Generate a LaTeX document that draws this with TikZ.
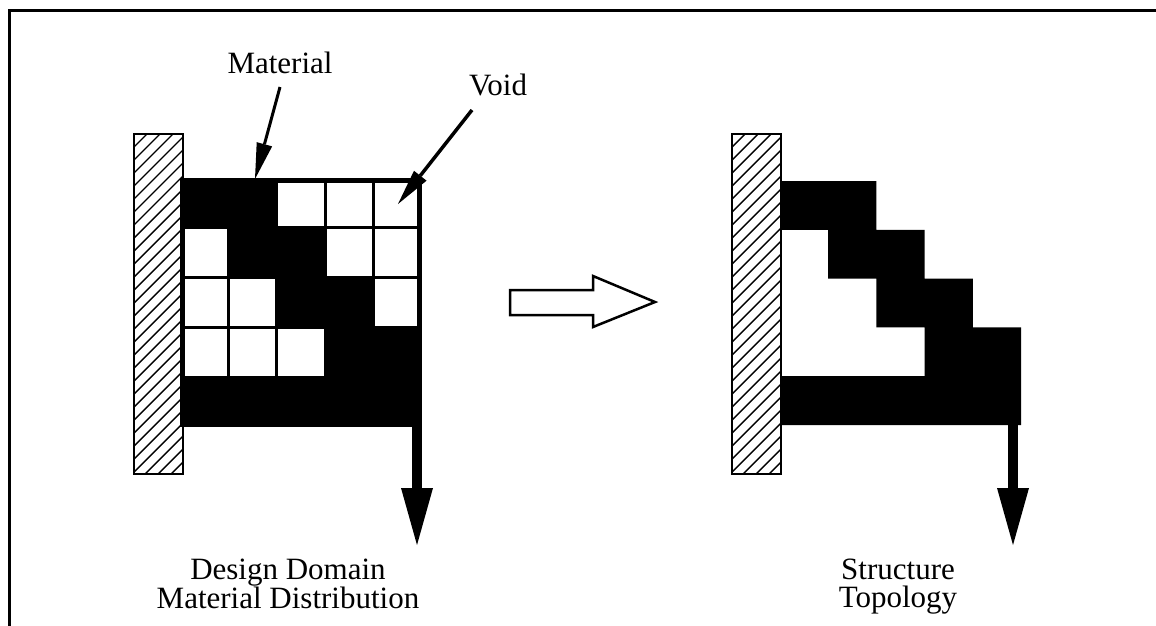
\documentclass[tikz,border=0pt]{standalone}
\usepackage{fontspec}
\setmainfont{Liberation Serif}
\usetikzlibrary{arrows.meta}
\newcommand\HatchWall[1]{%
  \begin{scope}
    \clip (#1,134) rectangle ++(49,340);
    \foreach \yy in {134,147,...,540} \draw[hatchline] (#1,\yy) -- ++(49,-49);
  \end{scope}
  \draw[wallborder] (#1,134) rectangle ++(49,340);
}
\begin{document}
\begin{tikzpicture}[x=1pt,y=-1pt,line join=miter,
  wallborder/.style={draw=black,line width=2.5pt},
  hatchline/.style={line width=1.4pt},
  lbl/.style={font=\fontsize{31}{28}\selectfont,inner sep=0pt,align=center},
  ptr/.style={line width=3pt,-{Triangle[length=36pt,width=16pt,line width=0pt]}},
  load/.style={line width=10pt,-{Triangle[length=57pt,width=32pt,line width=0pt]}},
  blockarrow/.style={draw=black,line width=2.5pt,fill=white}]
\useasboundingbox (0,0) rectangle (1156,625);
\fill[white] (0,0) rectangle (1156,625);
% frame
\draw[line width=3pt] (9,630) -- (9,10) -- (1160,10);

% ---- left: design domain
\HatchWall{134}
\fill[black] (180,178) rectangle (422,427);
\foreach \c/\r in {2/0,3/0,4/0,0/1,3/1,4/1,0/2,1/2,4/2,0/3,1/3,2/3}
  \fill[white] ({180+\c*48.4+1.6},{178+\r*49.8+1.6}) rectangle ++(45.2,46.6);
\draw[line width=5pt] (182.5,180.5) rectangle (419.5,424.5);

\node[lbl,anchor=base] (mat) at (280,73) {Material};
\node[lbl,anchor=base] (void) at (498,95) {Void};
\coordinate (matTail) at (280,87);
\coordinate (matTip) at (255,179);
\coordinate (voidTail) at (472,110);
\coordinate (voidTip) at (398,204);
\draw[ptr] (matTail) -- (matTip);
\draw[ptr,line width=3.5pt] (voidTail) -- (voidTip);

\coordinate (loadLs) at (417,424);
\coordinate (loadLt) at (417,545);
\draw[load] (loadLs) -- (loadLt);

\node[lbl] (dd) at (288,584) {Design Domain\\Material Distribution};

% ---- block arrow
\draw[blockarrow] (510,290) -- (593,290) -- (593,276) -- (655,302) -- (593,327) -- (593,315) -- (510,315) -- cycle;

% ---- right: structure topology
\HatchWall{732}
\def\ca{780}\def\cb{828.2}\def\cc{876.4}\def\cd{924.6}\def\ce{972.8}\def\cf{1021}
\def\ra{181}\def\rb{229.8}\def\rc{278.6}\def\rd{327.4}\def\re{376.2}\def\rf{425}
\fill[black] (\ca,\ra) -- (\cc,\ra) -- (\cc,\rb) -- (\cd,\rb) -- (\cd,\rc) -- (\ce,\rc)
  -- (\ce,\rd) -- (\cf,\rd) -- (\cf,\rf) -- (\ca,\rf) -- (\ca,\re) -- (\cd,\re)
  -- (\cd,\rd) -- (\cc,\rd) -- (\cc,\rc) -- (\cb,\rc) -- (\cb,\rb) -- (\ca,\rb) -- cycle;

\coordinate (loadRs) at (1013,422);
\coordinate (loadRt) at (1013,545);
\draw[load] (loadRs) -- (loadRt);

\node[lbl] (st) at (898,587) {Structure\\Topology};
\end{tikzpicture}
\end{document}
